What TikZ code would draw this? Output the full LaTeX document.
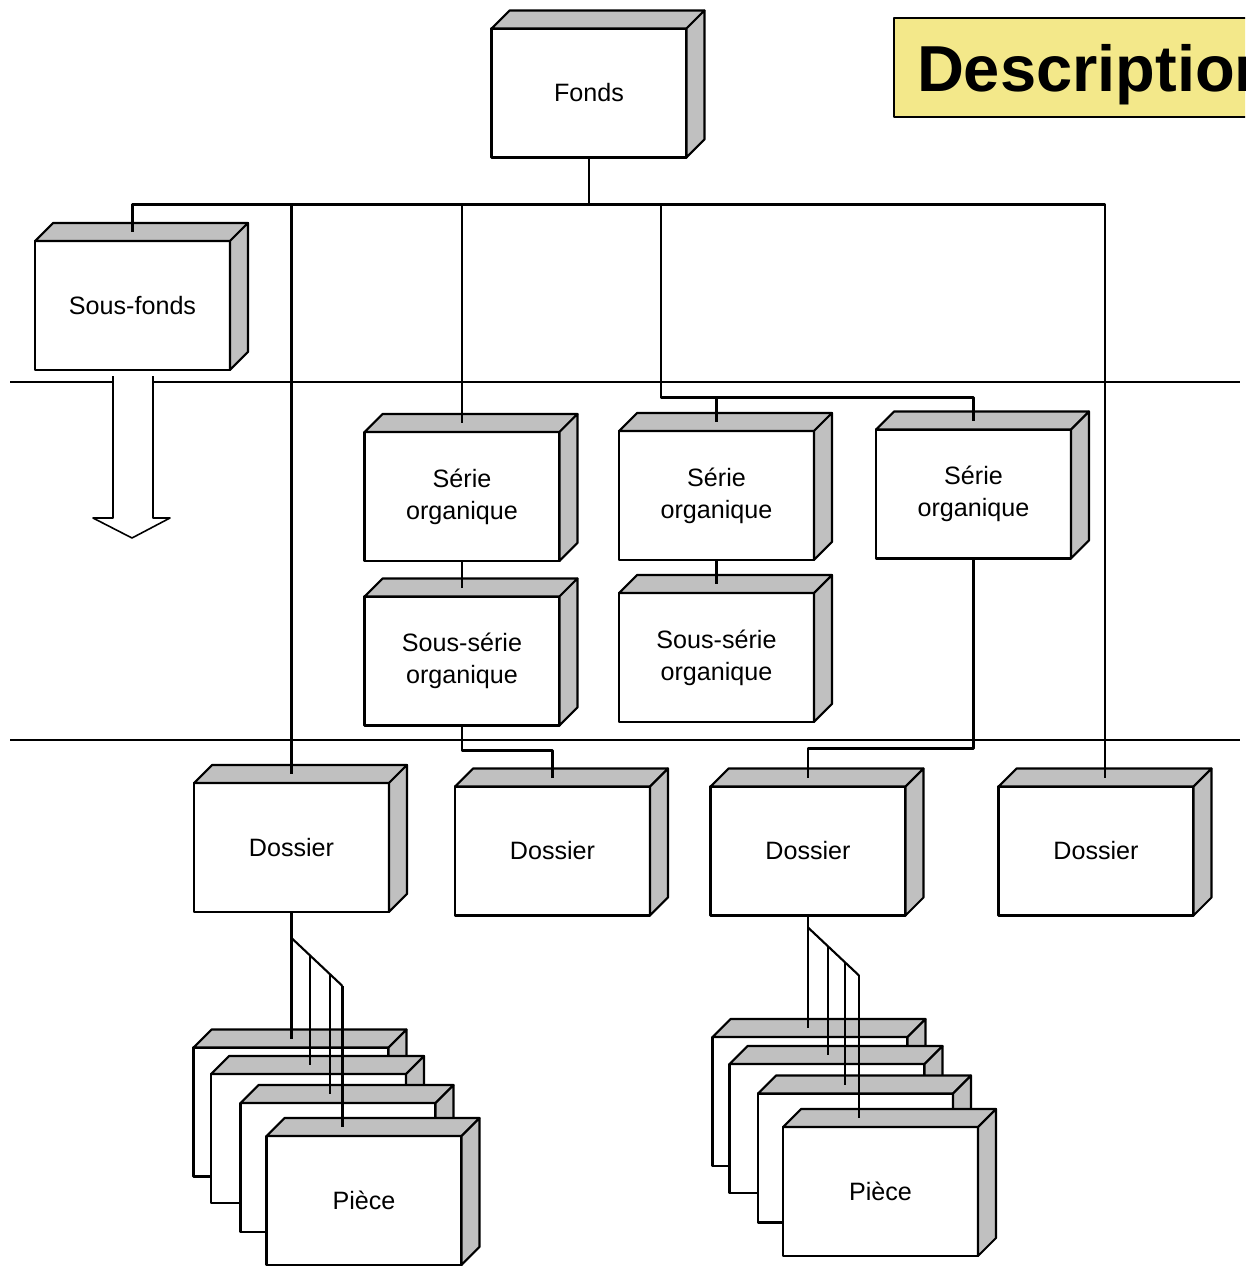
\documentclass[tikz,border=0pt]{standalone}
\usepackage{fontspec}
\setmainfont{Liberation Sans}
\definecolor{gris}{HTML}{C0C0C0}
\definecolor{jaune}{HTML}{F3E88A}

%% boite en relief : face avant (noeud), dessus et cote
\newcommand\boite[3]{%
  \node[boite] (#1) at (#2) {#3};
  \filldraw[face] (#1.north west) -- ++(18,-18) -- ([shift={(18,-18)}]#1.north east) -- (#1.north east) -- cycle;
  \filldraw[face] (#1.north east) -- ++(18,-18) -- ([shift={(18,-18)}]#1.south east) -- (#1.south east) -- cycle;
  \coordinate (#1-h) at ([shift={(0,-9)}]#1.north);
}

\begin{document}
\begin{tikzpicture}[x=0.02cm, y=-0.02cm, line width=1.2pt, line join=round,
  boite/.style={draw, fill=white, minimum width=3.9cm, minimum height=2.58cm, inner sep=2pt, outer sep=0pt, align=center, font=\fontsize{14.3}{18.1}\selectfont},
  face/.style={fill=gris}]
\useasboundingbox (0,0) rectangle (1245,1267);
\clip (0,0) rectangle (1245,1267);

\node[draw, fill=jaune, anchor=north west, minimum height=1.98cm, text depth=0pt, inner xsep=0.46cm, font=\fontsize{37}{40}\selectfont\bfseries] (titre) at (893,17) {Description};

\boite{fonds}{589,93}{Fonds}
\boite{sfonds}{132.5,305.5}{Sous-fonds}
\boite{serie1}{462,496.5}{Série\\organique}
\boite{ssserie1}{462,661}{Sous-série\\organique}
\boite{serie2}{716.5,495.5}{Série\\organique}
\boite{ssserie2}{716.5,657.5}{Sous-série\\organique}
\boite{serie3}{973.5,494}{Série\\organique}
\boite{dossier1}{291.5,847.5}{Dossier}
\boite{dossier2}{552.5,851}{Dossier}
\boite{dossier3}{808,851}{Dossier}
\boite{dossier4}{1096,851}{Dossier}
%% pieces
\boite{piece1a}{291,1112}{}
\boite{piece1b}{308.5,1138.5}{}
\boite{piece1c}{338,1167.5}{}
\boite{piece1d}{364,1200.5}{Pièce}
\boite{piece2a}{810,1101.5}{}
\boite{piece2b}{827,1128.5}{}
\boite{piece2c}{855.5,1158}{}
\boite{piece2d}{880.5,1191.5}{Pièce}

%% niveaux
\draw (10,382) -- (113,382) (153,382) -- (1240,382);
\draw (10,740) -- (1240,740);
\draw[line width=0.9pt] (113,376) -- (113,518) -- (93,518) -- (132,538) -- (170,518) -- (153,518) -- (153,376);

\draw (fonds.south) -- ++(0,47) coordinate (bus);
\draw (bus) -| (sfonds-h);
\draw (bus) -| (dossier1-h);
\draw (bus) -| (serie1-h);
\draw (bus) -| ++(72,193) coordinate (bus2) -| (serie3-h);
\draw (bus2) -| (serie2-h);
\draw (bus) -| ([shift={(9,0)}]dossier4-h);
\draw (serie1.south) -- (ssserie1-h);
\draw (serie2.south) -- (ssserie2-h);
\draw (ssserie1.south) -- ++(0,25) -| (dossier2-h);
\draw (serie3.south) -- ++(0,190) -| (dossier3-h);

\draw (dossier1.south) -- (dossier1.south |- piece1a-h);
\draw (dossier1.south) ++(0,26) -- ++(51,48) coordinate[pos=.36] (f1b) coordinate[pos=.75] (f1c) coordinate (f1d);
\draw (f1b) -- (f1b |- piece1b-h);
\draw (f1c) -- (f1c |- piece1c-h);
\draw (f1d) -- (f1d |- piece1d-h);

\draw (dossier3.south) -- (dossier3.south |- piece2a-h);
\draw (dossier3.south) ++(0,12) -- ++(51,48) coordinate[pos=.39] (f2b) coordinate[pos=.73] (f2c) coordinate (f2d);
\draw (f2b) -- (f2b |- piece2b-h);
\draw (f2c) -- (f2c |- piece2c-h);
\draw (f2d) -- (f2d |- piece2d-h);
\end{tikzpicture}
\end{document}
